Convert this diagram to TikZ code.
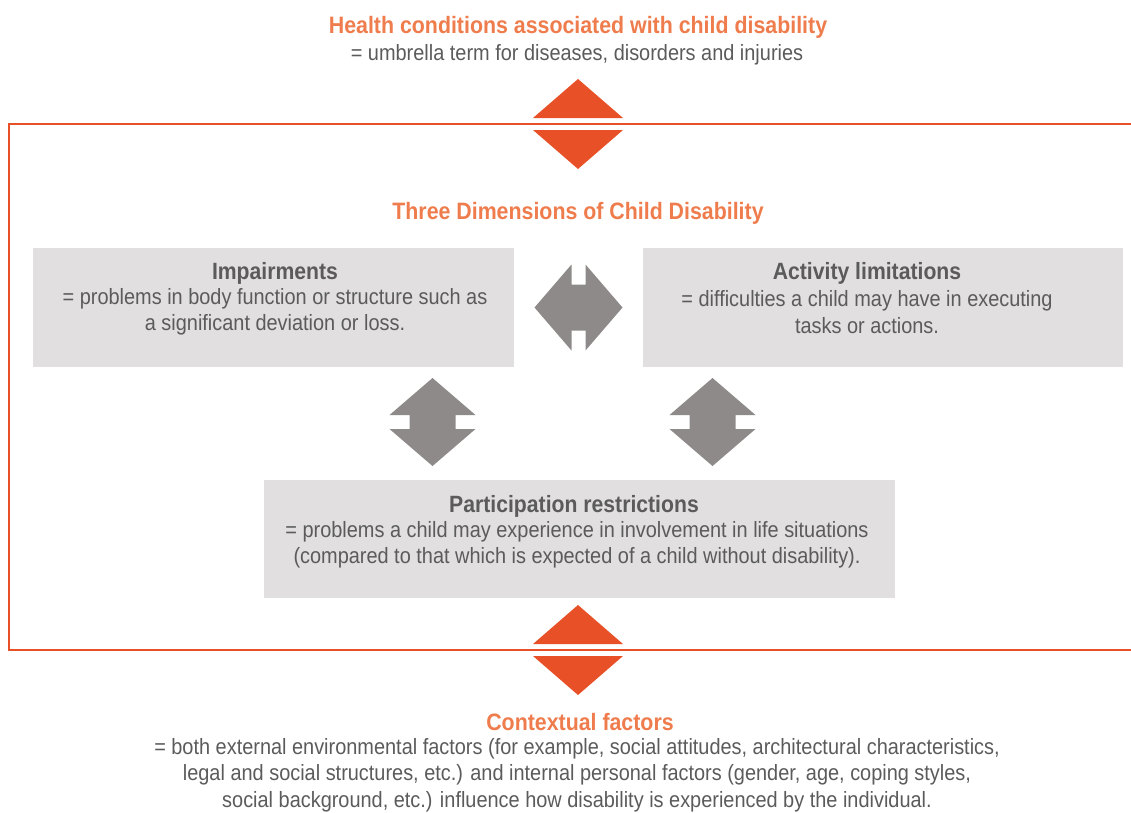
\documentclass[tikz,border=0pt]{standalone}
\usepackage{fontspec}
\setmainfont{Liberation Sans}[FakeStretch=0.9]
\usetikzlibrary{calc}
\definecolor{dorange}{HTML}{E85027}
\definecolor{torange}{HTML}{EF7C4C}
\definecolor{boxgrey}{HTML}{E1DFE0}
\definecolor{arrgrey}{HTML}{8F8A8A}
\definecolor{txtgrey}{HTML}{5B5B5B}
\def\greybox{\node[fill=boxgrey,inner sep=0pt]}
\def\headtext{\node[text=torange,font=\fontsize{13.5}{15}\bfseries\selectfont]}
\def\subhead{\node[text=txtgrey,font=\fontsize{13.4}{15}\bfseries\selectfont]}
\def\bodytext{\node[text=txtgrey,align=center,font=\fontsize{12.6}{15}\selectfont]}
\tikzset{
  dblarrow/.pic={\fill[arrgrey] (-44,0) -- (-7,-43) -- (-7,-23) -- (7,-23) -- (7,-43) -- (44,0)
    -- (7,43) -- (7,23) -- (-7,23) -- (-7,43) -- cycle;},
  splitarrow/.pic={\fill[dorange] (-45,-6) -- (0,-45) -- (45,-6) -- cycle;
    \fill[dorange] (-45,6) -- (0,45) -- (45,6) -- cycle;}
}
\begin{document}
\begin{tikzpicture}[x=0.02cm,y=-0.02cm]
\useasboundingbox (0,0) rectangle (1131,812);
\draw[dorange,line width=1.4pt] (1140,124) -- (9,124) -- (9,650) -- (1140,650);
\pic at (578,124) {splitarrow};
\pic at (578,650) {splitarrow};
\headtext (health) at (578,27) {Health conditions associated with child disability};
\bodytext (healthtxt) at (577,55) {= umbrella term for diseases, disorders and injuries};
\headtext (three) at (578,213) {Three Dimensions of Child Disability};
\greybox[minimum width=9.62cm,minimum height=2.38cm] (imp) at (273.5,307.5) {};
\greybox[minimum width=9.6cm,minimum height=2.38cm] (act) at (883,307.5) {};
\greybox[minimum width=12.62cm,minimum height=2.36cm] (part) at (579.5,539) {};
\subhead (imphead) at (275,273) {Impairments};
\bodytext (imptxt) at (275,312) {= problems in body function or structure such as\\a significant deviation or loss.};
\subhead (acthead) at (867,273) {Activity limitations};
\bodytext (acttxt) at (867,312) {= difficulties a child may have in executing\\tasks or actions.};
\subhead (parthead) at (574,506) {Participation restrictions};
\bodytext (parttxt) at (577,545) {= problems a child may experience in involvement in life situations\\(compared to that which is expected of a child without disability).};
\pic at ($(imp.east)!0.5!(act.west)$) {dblarrow};
\pic[rotate=90] at (432.5,422) {dblarrow};
\pic[rotate=90] at (712.5,422) {dblarrow};
\headtext (context) at (580,722) {Contextual factors};
\bodytext (contexttxt) at (577,775) {= both external environmental factors (for example, social attitudes, architectural characteristics,\\legal and social structures, etc.) and internal personal factors (gender, age, coping styles,\\social background, etc.) influence how disability is experienced by the individual.};
\end{tikzpicture}
\end{document}
